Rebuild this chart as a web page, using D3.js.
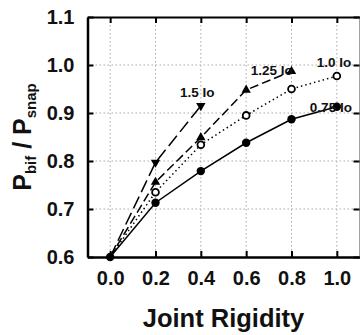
<!DOCTYPE html>
<html>
<head>
<meta charset="utf-8">
<script src="https://cdn.jsdelivr.net/npm/d3@7"></script>
<style>
  body { margin: 0; background: #fff; }
  svg { display: block; font-family: "Liberation Sans", Arial, sans-serif; }
  .tick-label { font-size: 20px; font-weight: bold; fill: #111; }
  .series-label { font-size: 13.5px; font-weight: bold; fill: #111; }
  .grid line { stroke: #aaa; stroke-width: 1; stroke-dasharray: 1.5,2.5; }
</style>
</head>
<body>
<div id="chart"></div>
<script>
const xTicks = [0.0, 0.2, 0.4, 0.6, 0.8, 1.0];
const yTicks = [0.6, 0.7, 0.8, 0.9, 1.0, 1.1];

// joint rigidity values for each curve
const rigidity075 = [0.0, 0.2, 0.4, 0.6, 0.8, 1.0];
const ratio075 = [0.600, 0.713, 0.779, 0.838, 0.887, 0.913];

const rigidity100 = [0.0, 0.2, 0.4, 0.6, 0.8, 1.0];
const ratio100 = [0.600, 0.735, 0.834, 0.895, 0.950, 0.977];

const rigidity125 = [0.0, 0.2, 0.4, 0.6, 0.8];
const ratio125 = [0.600, 0.756, 0.849, 0.948, 0.987];

const rigidity150 = [0.0, 0.2, 0.4];
const ratio150 = [0.600, 0.797, 0.915];

const seriesNames = ['0.75 Io', '1.0 Io', '1.25 Io', '1.5 Io'];
// where each name sits, in data units
const labelX = [0.881, 0.911, 0.62, 0.308];
const labelY = [0.903, 0.996, 0.979, 0.934];

const width = 360, height = 335;
const margin = { top: 17, right: 0.5, bottom: 78, left: 87.5 };

const svg = d3.select('#chart').append('svg')
  .attr('width', width)
  .attr('height', height);

const x = d3.scaleLinear().domain([-0.1, 1.1]).range([margin.left, width - margin.right]);
const y = d3.scaleLinear().domain([0.6, 1.1]).range([height - margin.bottom, margin.top]);

const x0 = x.range()[0], x1 = x.range()[1];
const y0 = y.range()[0], y1 = y.range()[1];

// dotted grid
const grid = svg.append('g').attr('class', 'grid');
grid.selectAll('.gx').data(xTicks).enter().append('line')
  .attr('x1', d => x(d)).attr('x2', d => x(d))
  .attr('y1', y1).attr('y2', y0);
grid.selectAll('.gy').data(yTicks.slice(1, -1)).enter().append('line')
  .attr('x1', x0).attr('x2', x1)
  .attr('y1', d => y(d)).attr('y2', d => y(d));

// axes with inward ticks
const tickLen = 6;
svg.append('g')
  .attr('transform', `translate(0,${y0})`)
  .call(d3.axisBottom(x).tickValues(xTicks).tickSizeInner(-tickLen).tickSizeOuter(0).tickFormat(d3.format('.1f')).tickPadding(14))
  .call(g => g.select('.domain').attr('stroke-width', 2.5).attr('stroke', '#000'))
  .call(g => g.selectAll('.tick line').attr('stroke-width', 2).attr('stroke', '#000'))
  .call(g => g.selectAll('.tick text').attr('class', 'tick-label').attr('font-family', null).attr('font-size', null));

svg.append('g')
  .attr('transform', `translate(${x0},0)`)
  .call(d3.axisLeft(y).tickValues(yTicks).tickSizeInner(-tickLen).tickSizeOuter(0).tickFormat(d3.format('.1f')).tickPadding(13))
  .call(g => g.select('.domain').attr('stroke-width', 2.5).attr('stroke', '#000'))
  .call(g => g.selectAll('.tick line').attr('stroke-width', 2).attr('stroke', '#000'))
  .call(g => g.selectAll('.tick text').attr('class', 'tick-label').attr('font-family', null).attr('font-size', null));

svg.append('g')
  .attr('transform', `translate(0,${y1})`)
  .call(d3.axisTop(x).tickValues(xTicks).tickSizeInner(-tickLen).tickSizeOuter(0).tickFormat(''))
  .call(g => g.select('.domain').attr('stroke-width', 2).attr('stroke', '#000'))
  .call(g => g.selectAll('.tick line').attr('stroke-width', 2).attr('stroke', '#000'));

svg.append('g')
  .attr('transform', `translate(${x1},0)`)
  .call(d3.axisRight(y).tickValues(yTicks).tickSizeInner(-tickLen).tickSizeOuter(0).tickFormat(''))
  .call(g => g.select('.domain').attr('stroke-width', 1).attr('stroke', '#444'))
  .call(g => g.selectAll('.tick line').attr('stroke-width', 2).attr('stroke', '#000'));

// curves
const curves = [
  { xs: rigidity075, ys: ratio075, dash: null, marker: 'dot' },
  { xs: rigidity100, ys: ratio100, dash: '1.5,3', marker: 'ring' },
  { xs: rigidity125, ys: ratio125, dash: '9,4', marker: 'up' },
  { xs: rigidity150, ys: ratio150, dash: '13,5', marker: 'down' }
];

const line = d3.line().x(d => x(d[0])).y(d => y(d[1]));

curves.forEach(c => {
  const pts = c.xs.map((v, i) => [v, c.ys[i]]);
  svg.append('path')
    .datum(pts)
    .attr('fill', 'none')
    .attr('stroke', '#000')
    .attr('stroke-width', 1.5)
    .attr('stroke-dasharray', c.dash)
    .attr('d', line);

  const g = svg.append('g');
  pts.slice(1).forEach(p => {
    const px = x(p[0]), py = y(p[1]);
    if (c.marker === 'dot') {
      g.append('circle').attr('cx', px).attr('cy', py).attr('r', 4.2).attr('fill', '#000');
    } else if (c.marker === 'ring') {
      g.append('circle').attr('cx', px).attr('cy', py).attr('r', 3.4)
        .attr('fill', '#fff').attr('stroke', '#000').attr('stroke-width', 1.8);
    } else {
      const sym = d3.symbol().type(d3.symbolTriangle).size(38);
      g.append('path').attr('d', sym())
        .attr('transform', `translate(${px},${py})` + (c.marker === 'down' ? ' rotate(180)' : ''))
        .attr('fill', '#000');
    }
  });
});

// common start point
svg.append('circle')
  .attr('cx', x(rigidity075[0])).attr('cy', y(ratio075[0]))
  .attr('r', 4.2).attr('fill', '#000');

// series names
svg.append('g').selectAll('text')
  .data(seriesNames).enter().append('text')
  .attr('class', 'series-label')
  .attr('x', (d, i) => x(labelX[i]))
  .attr('y', (d, i) => y(labelY[i]))
  .text(d => d);

// axis titles
svg.append('text')
  .attr('x', (x0 + x1) / 2)
  .attr('y', 327)
  .attr('text-anchor', 'middle')
  .attr('font-size', 25.5)
  .attr('font-weight', 'bold')
  .attr('fill', '#111')
  .text('Joint Rigidity');

const yTitle = svg.append('text')
  .attr('transform', `translate(31,${(y0 + y1) / 2}) rotate(-90)`)
  .attr('text-anchor', 'middle')
  .attr('font-size', 25)
  .attr('font-weight', 'bold')
  .attr('fill', '#111');
yTitle.append('tspan').text('P');
yTitle.append('tspan').attr('font-size', 15).attr('dy', 5).text('bif');
yTitle.append('tspan').attr('dy', -5).text(' / P');
yTitle.append('tspan').attr('font-size', 15).attr('dy', 5).text('snap');
</script>
</body>
</html>
